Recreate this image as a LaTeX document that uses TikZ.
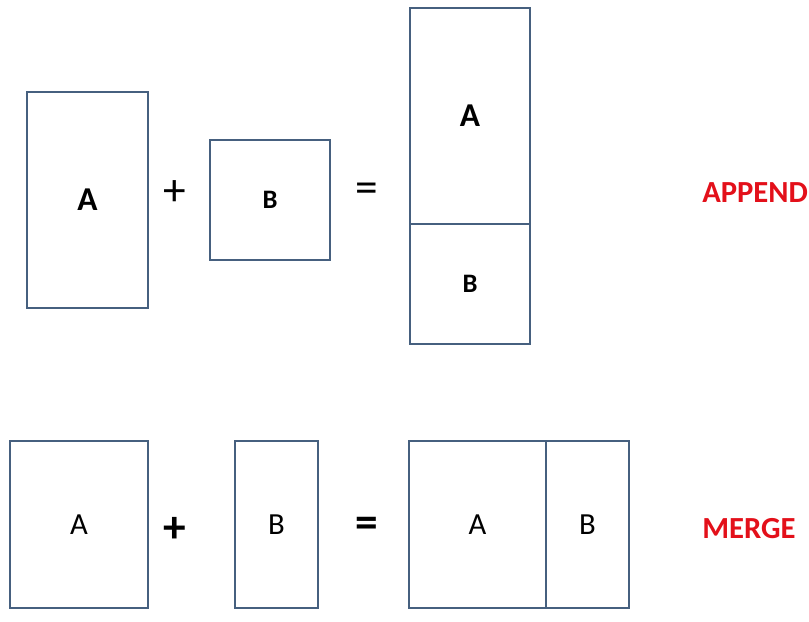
\documentclass[tikz,border=0pt]{standalone}
\usepackage{fontspec}
\setmainfont{Carlito}
\usetikzlibrary{positioning}
\definecolor{boxline}{HTML}{46607F}
\definecolor{tagred}{HTML}{E3101A}
\tikzset{
	cell/.style={draw=boxline, line width=2pt, inner sep=0pt, outer sep=0pt},
	bigbold/.style={font=\fontsize{25}{29}\selectfont\bfseries},
	smallbold/.style={font=\fontsize{20}{24}\selectfont\bfseries},
	plain/.style={font=\fontsize{23}{27}\selectfont},
	sign/.style={font=\fontsize{34}{38}\selectfont},
	tag/.style={font=\fontsize{23}{27}\selectfont\bfseries, text=tagred, anchor=west, inner sep=0pt}
}
\begin{document}
\begin{tikzpicture}[x=0.75pt, y=-0.75pt]
			\useasboundingbox (0,0) rectangle (809,621);
			
			%append row
			\node[cell, bigbold, minimum width=90.75pt, minimum height=162pt] (appA) at (87.5,200){A};
			\node[sign] (appPlus) at (175,193){+};
			\node[cell, smallbold, minimum width=90pt, minimum height=90pt] (appB) at (270,200){B};
			\node[sign] (appEq) at (367,193){=};
			\node[cell, bigbold, minimum width=90pt, minimum height=162pt] (stackA) at (470,116){A};
			\node[cell, smallbold, minimum width=90pt, minimum height=90pt, below=0pt of stackA] (stackB){B};
			\node[tag] (appTag) at (702,193){APPEND};
			
			%merge row
			\node[cell, plain, minimum width=103.5pt, minimum height=125.25pt] (merA) at (79,524.5){A};
			\node[sign, font=\fontsize{34}{38}\selectfont\bfseries] (merPlus) at (175,530){+};
			\node[cell, plain, minimum width=62.25pt, minimum height=125.25pt] (merB) at (276.5,524.5){B};
			\node[sign, font=\fontsize{34}{38}\selectfont\bfseries] (merEq) at (367,527){=};
			\node[cell, plain, minimum width=102.75pt, minimum height=125.25pt] (sideA) at (477.5,524.5){A};
			\node[cell, plain, minimum width=62.25pt, minimum height=125.25pt, right=0pt of sideA] (sideB){B};
			\node[tag] (merTag) at (702,529){MERGE};
\end{tikzpicture}
\end{document}
